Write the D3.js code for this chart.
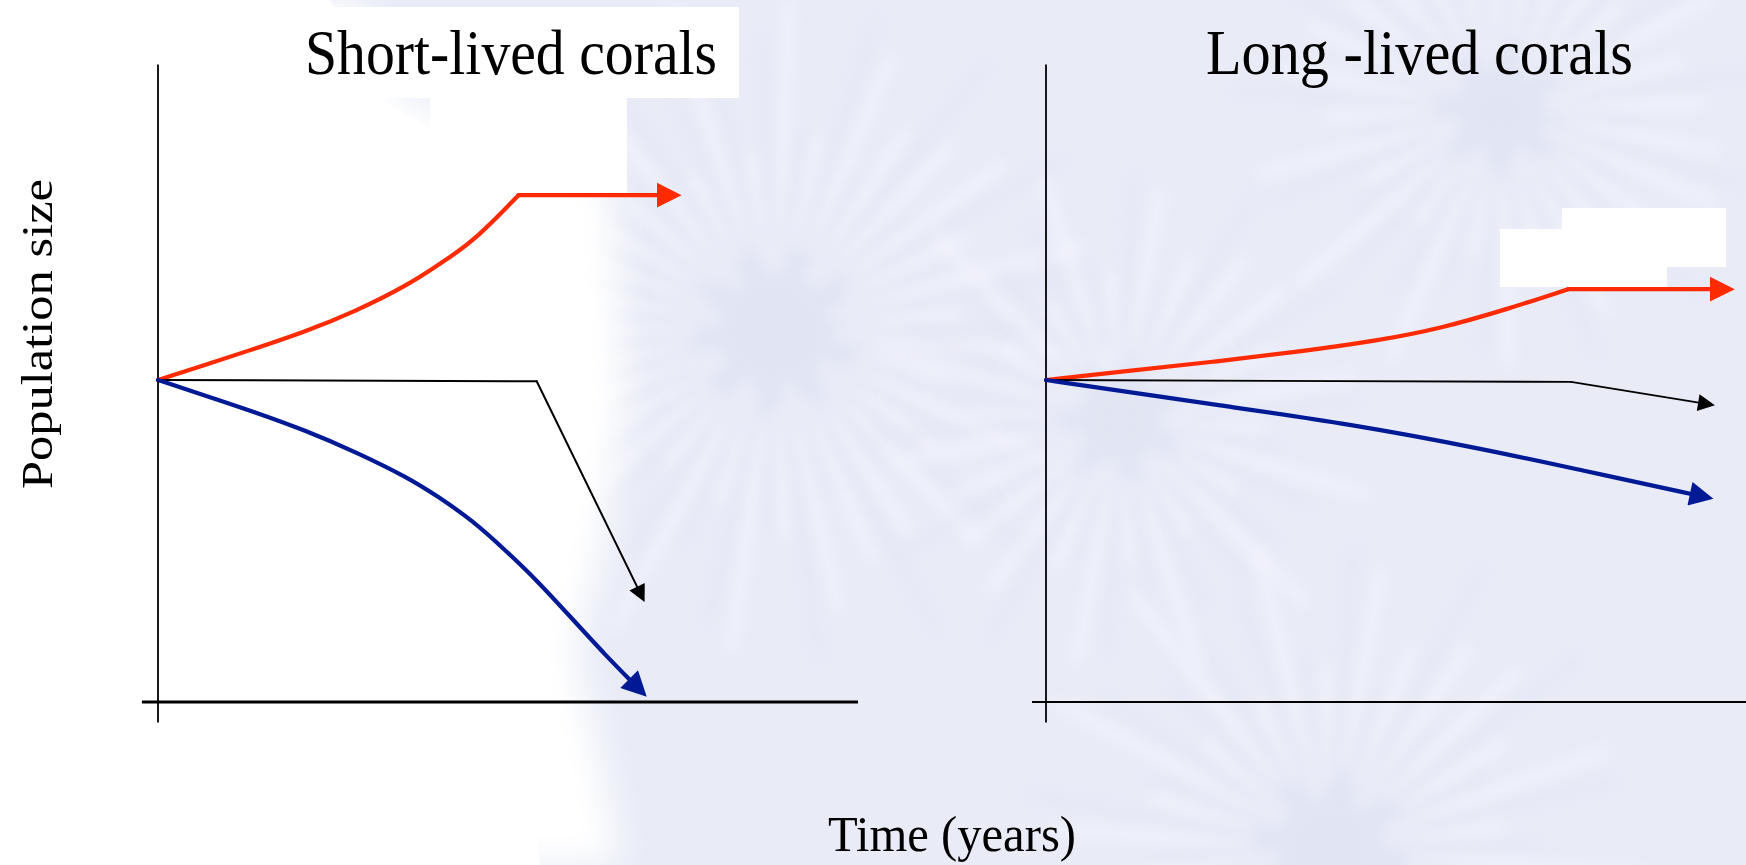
<!DOCTYPE html>
<html><head><meta charset="utf-8">
<script src="https://cdn.jsdelivr.net/npm/d3@7"></script>
<style>html,body{margin:0;padding:0;background:#fff;overflow:hidden}</style>
</head><body>
<svg id="chart" width="1746" height="865"></svg>
<script>
// ---------- data ----------
const panelTitles = ["Short-lived corals", "Long -lived corals"];
const xAxisLabel = "Time (years)";
const yAxisLabel = "Population size";

// Short-lived corals (time, population) ; bend = index where the straight arrow part starts
const shortRedTime  = [0, 0.67, 1.39, 2.1, 2.81, 3.58, 4.0, 4.48, 5.15, 7.48];
const shortRedPop   = [50, 52.3, 54.9, 57.5, 60.6, 64.8, 67.9, 71.2, 78.7, 78.7];
const shortBlackTime = [0, 5.41, 6.97];
const shortBlackPop  = [50, 49.8, 15.1];
const shortBlueTime = [0, 0.67, 1.39, 2.1, 2.81, 3.58, 4.0, 4.48, 4.96, 5.43, 5.91, 6.39, 7.0];
const shortBluePop  = [50, 47.6, 45.0, 42.2, 38.9, 34.8, 31.9, 28.3, 23.6, 18.7, 13.0, 7.3, 0.6];

// Long-lived corals
const longRedTime  = [0, 1.08, 2.38, 3.69, 4.73, 5.64, 6.62, 7.46, 9.84];
const longRedPop   = [50, 51.3, 52.8, 54.5, 56.1, 58.0, 61.1, 64.1, 64.1];
const longBlackTime = [0, 7.5, 9.59];
const longBlackPop  = [50, 49.7, 46.0];
const longBlueTime = [0, 1.08, 2.38, 4.34, 6.29, 7.6, 9.56];
const longBluePop  = [50, 48.3, 46.2, 43.2, 39.2, 36.1, 31.5];

// ---------- setup ----------
const svg = d3.select("#chart");
const W = 1746, H = 865;
const defs = svg.append("defs");

const y = d3.scaleLinear().domain([0, 100]).range([702, 58]);
const xs = [
  d3.scaleLinear().domain([0, 10]).range([158, 858]),
  d3.scaleLinear().domain([0, 10]).range([1046, 1746])
];

// ---------- background ----------
function addBlur(id, sd) {
  defs.append("filter").attr("id", id).attr("x", "-30%").attr("y", "-30%").attr("width", "160%").attr("height", "160%")
    .append("feGaussianBlur").attr("stdDeviation", sd);
}
addBlur("blur", 7);
addBlur("blur2", 18);
addBlur("blur3", 30);

const bg = svg.append("g");
bg.append("rect").attr("width", W).attr("height", H).attr("fill", "#e9ecf7");

const corals = [
  {cx: 775, cy: 330, r: 340, n: 70},
  {cx: 1500, cy: 110, r: 270, n: 56},
  {cx: 1330, cy: 850, r: 320, n: 60},
  {cx: 1120, cy: 420, r: 260, n: 52}
];
corals.forEach((c, ci) => {
  const g0 = bg.append("g").attr("filter", "url(#blur3)");
  g0.append("circle").attr("cx", c.cx).attr("cy", c.cy).attr("r", c.r * 0.3).attr("fill", "#dfe3f3").attr("opacity", 0.8);
  const g = bg.append("g").attr("filter", "url(#blur)");
  d3.range(c.n).forEach(i => {
    const a = i / c.n * 2 * Math.PI + ci * 0.3;
    const len = c.r * (0.75 + 0.25 * Math.sin(i * 1.7 + ci));
    const r0 = c.r * (0.22 + 0.05 * Math.cos(i * 2.3));
    g.append("line")
      .attr("x1", c.cx + Math.cos(a) * r0).attr("y1", c.cy + Math.sin(a) * r0)
      .attr("x2", c.cx + Math.cos(a) * len).attr("y2", c.cy + Math.sin(a) * len)
      .attr("stroke", i % 2 ? "#f7f8fd" : "#dde1f2")
      .attr("stroke-width", i % 2 ? 9 : 5)
      .attr("stroke-linecap", "round")
      .attr("opacity", 0.55);
  });
});

// white faded left region
bg.append("path")
  .attr("d", "M0,0 L360,0 L400,95 L610,180 L625,400 L600,560 L575,650 L600,760 L620,865 L0,865 Z")
  .attr("fill", "#ffffff").attr("filter", "url(#blur2)");
bg.append("path")
  .attr("d", "M0,0 L330,0 L380,100 L560,200 L570,560 L520,700 L540,865 L0,865 Z")
  .attr("fill", "#ffffff");

// white boxes
[[300, 7, 439, 91], [430, 98, 197, 97], [1562, 208, 164, 59], [1500, 229, 167, 58]].forEach(b => {
  bg.append("rect").attr("x", b[0]).attr("y", b[1]).attr("width", b[2]).attr("height", b[3]).attr("fill", "#ffffff");
});

// ---------- axes ----------
const axisStyle = [
  {xw: 3, yw: 1.8, xLeft: -0.23, xRight: 10},
  {xw: 1.8, yw: 1.8, xLeft: -0.2, xRight: 10}
];
xs.forEach((x, i) => {
  const g = svg.append("g");
  const s = axisStyle[i];
  g.append("line").attr("x1", x(s.xLeft)).attr("x2", x(s.xRight)).attr("y1", y(0)).attr("y2", y(0))
    .attr("stroke", "#000").attr("stroke-width", s.xw);
  g.append("line").attr("x1", x(0)).attr("x2", x(0)).attr("y1", y(99)).attr("y2", y(-3.2))
    .attr("stroke", "#000").attr("stroke-width", s.yw);
});

// ---------- series ----------
function makeMarker(id, color, len, wid, back) {
  defs.append("marker").attr("id", id)
    .attr("viewBox", "0 0 10 10")
    .attr("refX", 10 * (1 - back / len)).attr("refY", 5)
    .attr("markerUnits", "userSpaceOnUse")
    .attr("markerWidth", len).attr("markerHeight", wid)
    .attr("orient", "auto")
    .append("path").attr("d", "M0,0 L10,5 L0,10 Z").attr("fill", color);
}

const series = [
  {panel: 0, t: shortRedTime, p: shortRedPop, bend: 8, color: "#ff2a00", w: 4.2, head: [25, 26]},
  {panel: 0, t: shortBlackTime, p: shortBlackPop, bend: 1, color: "#000000", w: 2, head: [22, 17]},
  {panel: 0, t: shortBlueTime, p: shortBluePop, bend: null, color: "#001a96", w: 4.2, head: [28, 25]},
  {panel: 1, t: longRedTime, p: longRedPop, bend: 7, color: "#ff2a00", w: 4.2, head: [25, 26]},
  {panel: 1, t: longBlackTime, p: longBlackPop, bend: 1, color: "#000000", w: 1.8, head: [21, 17]},
  {panel: 1, t: longBlueTime, p: longBluePop, bend: null, color: "#001a96", w: 4.2, head: [27, 24]}
];

const curveLine = d3.line().curve(d3.curveBasis);
const straightLine = d3.line();

series.forEach((s, i) => {
  const x = xs[s.panel];
  const pts = s.t.map((t, k) => [x(t), y(s.p[k])]);
  const back = s.head[0] * 0.6;
  const mid = "arrow" + i;
  makeMarker(mid, s.color, s.head[0], s.head[1], back);
  function shorten(a, b) {
    const dx = b[0] - a[0], dy = b[1] - a[1], L = Math.hypot(dx, dy);
    return [b[0] - dx / L * back, b[1] - dy / L * back];
  }
  if (s.bend !== null) {
    const c = pts.slice(0, s.bend + 1);
    svg.append("path").attr("d", s.bend > 1 ? curveLine(c) : straightLine(c))
      .attr("fill", "none").attr("stroke", s.color).attr("stroke-width", s.w)
      .attr("stroke-linejoin", "round").attr("stroke-linecap", "round");
    const tail = pts.slice(s.bend);
    tail[tail.length - 1] = shorten(tail[tail.length - 2], tail[tail.length - 1]);
    svg.append("path").attr("d", straightLine(tail))
      .attr("fill", "none").attr("stroke", s.color).attr("stroke-width", s.w)
      .attr("stroke-linecap", "round")
      .attr("marker-end", "url(#" + mid + ")");
  } else {
    const c = pts.slice();
    c[c.length - 1] = shorten(c[c.length - 2], c[c.length - 1]);
    svg.append("path").attr("d", curveLine(c))
      .attr("fill", "none").attr("stroke", s.color).attr("stroke-width", s.w)
      .attr("stroke-linecap", "round")
      .attr("marker-end", "url(#" + mid + ")");
  }
});

// ---------- text ----------
const font = "'Liberation Serif', 'Times New Roman', serif";
const titlePos = [[305, 412], [1206, 427]];
panelTitles.forEach((t, i) => {
  svg.append("text").attr("x", titlePos[i][0]).attr("y", 74)
    .attr("font-family", font).attr("font-size", 64).attr("fill", "#000")
    .attr("textLength", titlePos[i][1]).attr("lengthAdjust", "spacingAndGlyphs")
    .text(t);
});
svg.append("text").attr("x", 828).attr("y", 851)
  .attr("font-family", font).attr("font-size", 50).attr("fill", "#000")
  .attr("textLength", 248).attr("lengthAdjust", "spacingAndGlyphs")
  .text(xAxisLabel);
svg.append("text").attr("transform", "translate(52,334) rotate(-90)")
  .attr("text-anchor", "middle")
  .attr("font-family", font).attr("font-size", 45).attr("fill", "#000")
  .attr("textLength", 310).attr("lengthAdjust", "spacingAndGlyphs")
  .text(yAxisLabel);
</script>
</body></html>
